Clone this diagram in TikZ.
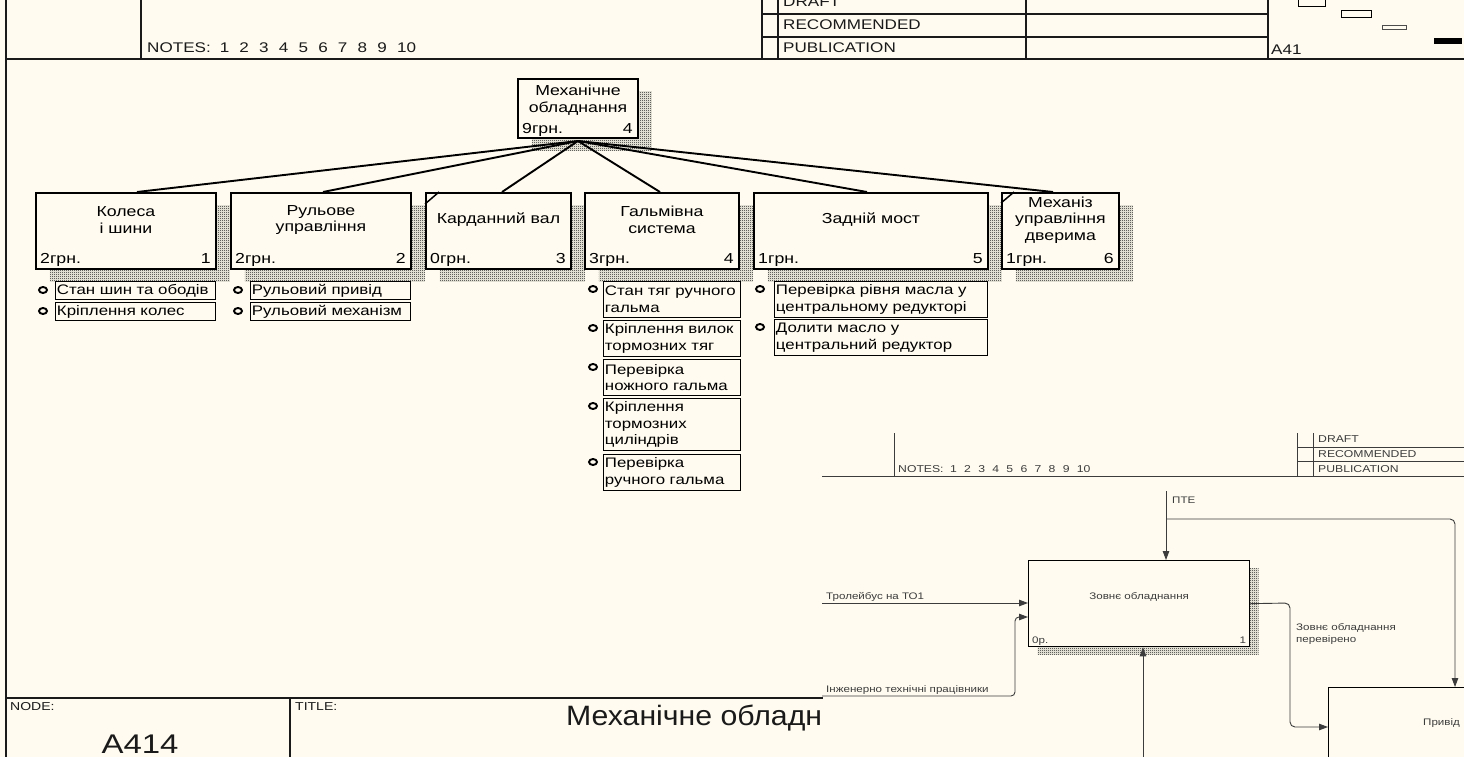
\documentclass[tikz,border=0pt]{standalone}
\usepackage{fontspec}
\setmainfont{Liberation Sans}
\newfontfamily\wf[FakeStretch=1.22]{Liberation Sans}
\newfontfamily\tf[FakeStretch=1.08]{Liberation Sans}
\usetikzlibrary{calc,patterns,shapes.geometric,arrows.meta,shadows}
\definecolor{bg}{HTML}{FFFBF0}
\definecolor{ink}{HTML}{1A1A1A}
\definecolor{thin}{HTML}{3C3C3C}
\pgfdeclarepatternformonly{fhatch}{\pgfqpoint{0pt}{0pt}}{\pgfqpoint{2pt}{2pt}}{\pgfqpoint{2pt}{2pt}}{%
  \pgfpathrectangle{\pgfqpoint{0pt}{0pt}}{\pgfqpoint{1pt}{1pt}}%
  \pgfpathrectangle{\pgfqpoint{1pt}{1pt}}{\pgfqpoint{1pt}{1pt}}%
  \pgfusepath{fill}}
\tikzset{
  frame/.style={draw=ink, line width=1.1},
  iframe/.style={draw=thin, line width=0.9},
  hdr/.style={font=\wf\fontsize{14}{16}\selectfont, inner sep=0, anchor=west, text=ink},
  ihdr/.style={font=\wf\fontsize{10}{12}\selectfont, inner sep=0, anchor=west, text=thin},
  proc/.style={draw=black, line width=1.9, fill=bg, inner sep=0, anchor=north west,
     general shadow={shadow xshift=14pt, shadow yshift=-13pt, pattern=fhatch, pattern color=black!95}},
  iproc/.style={draw=black, line width=1.3, fill=bg, inner sep=0, anchor=north west,
     general shadow={shadow xshift=9pt, shadow yshift=-8pt, pattern=fhatch, pattern color=black!95}},
  btxt/.style={font=\wf\fontsize{14.5}{16.5}\selectfont, align=center, inner sep=0},
  cost/.style={font=\wf\fontsize{14.5}{16.5}\selectfont, inner sep=0, anchor=base west},
  num/.style={font=\wf\fontsize{14.5}{16.5}\selectfont, inner sep=0, anchor=base east},
  litem/.style={draw=black, line width=0.9, fill=bg, anchor=north west, inner xsep=1.5, inner ysep=0,
     align=left, font=\wf\fontsize{13.8}{16.5}\selectfont, text width=#1},
  ring/.style={ellipse, draw=black, line width=1.9, minimum width=8, minimum height=6, inner sep=0},
  conn/.style={draw=black, line width=1.9},
  arr/.style={draw=thin, line width=0.9, -{Triangle[length=9pt,width=6.5pt]}},
  itxt/.style={font=\wf\fontsize{9.5}{11.5}\selectfont, inner sep=0, text=thin},
  ttxt/.style={font=\wf\fontsize{11.5}{13}\selectfont, inner sep=0, anchor=west, text=ink},
}
\begin{document}
\begin{tikzpicture}[x=1pt,y=-1pt]
\useasboundingbox (0,0) rectangle (1464,757);
\clip (0,0) rectangle (1464,757);
\fill[bg] (0,0) rectangle (1464,757);

% ---------- header ----------
\draw[draw=ink, line width=2.5] (6,0) -- (6,757);
\draw[draw=ink, line width=1.6] (6,59) -- (1464,59);
\draw[frame] (141,0) -- (141,59);
\foreach \x in {762,778,1026,1268} \draw[frame] (\x,0) -- (\x,59);
\draw[frame] (762,14) -- (1268,14) (762,37) -- (1268,37);
\node[hdr] (notes) at (147,48) {NOTES:\hspace{9pt}1\hspace{10.2pt}2\hspace{10.2pt}3\hspace{10.2pt}4\hspace{10.2pt}5\hspace{10.2pt}6\hspace{10.2pt}7\hspace{10.2pt}8\hspace{10.2pt}9\hspace{10.2pt}10};
\node[hdr] (draft) at (783,2) {DRAFT};
\node[hdr] (recom) at (783,25) {RECOMMENDED};
\node[hdr] (publ) at (783,48) {PUBLICATION};
\node[hdr] (a41) at (1271,50) {A41};
\draw[line width=1] (1298,-2) rectangle (1325,7);
\draw[line width=1] (1341,11) rectangle (1371,18);
\draw[line width=0.8, draw=black!70] (1382,25) rectangle (1406,29);
\fill (1434,38) rectangle (1462,44);

% ---------- top node ----------
\node[proc, minimum width=120, minimum height=59] (top) at (517,78) {};
\node[btxt] (topt) at ($(top.north)+(0,22)$) {Механічне\\обладнання};
\node[cost] (topc) at ($(top.south west)+(5,-5)$) {9грн.};
\node[num] (topn) at ($(top.south east)+(-6,-5)$) {4};

% ---------- child boxes ----------
\node[proc, minimum width=180, minimum height=76] (b1) at (35,192) {};
\node[proc, minimum width=180, minimum height=76] (b2) at (230,192) {};
\node[proc, minimum width=145, minimum height=76] (b3) at (425,192) {};
\node[proc, minimum width=154, minimum height=76] (b4) at (584,192) {};
\node[proc, minimum width=234, minimum height=76] (b5) at (753,192) {};
\node[proc, minimum width=117, minimum height=76] (b6) at (1001,192) {};

\coordinate (apex) at (578,141);
\draw[conn] (apex) -- ($(b1.north west)+(102,0)$);
\draw[conn] (apex) -- ($(b2.north west)+(93,0)$);
\draw[conn] (apex) -- ($(b3.north west)+(77,0)$);
\draw[conn] (apex) -- ($(b4.north west)+(76,0)$);
\draw[conn] (apex) -- ($(b5.north west)+(114,0)$);
\draw[conn] (apex) -- ($(b6.north west)+(52,0)$);

\draw[line width=1.5] ($(b3.north west)+(0,12)$) -- ($(b3.north west)+(14,0)$);
\draw[line width=1.5] ($(b6.north west)+(0,11)$) -- ($(b6.north west)+(13,0)$);

\node[btxt] (t1) at ($(b1.north)+(0,28)$) {Колеса\\і шини};
\node[btxt] (t2) at ($(b2.north)+(0,28)$) {Рульове\\управління};
\node[btxt] (t3) at ($(b3.north)+(0,28)$) {Карданний вал};
\node[btxt] (t4) at ($(b4.north)+(0,28)$) {Гальмівна\\система};
\node[btxt] (t5) at ($(b5.north)+(0,28)$) {Задній мост};
\node[btxt] (t6) at ($(b6.north)+(0,28)$) {Механіз\\управління\\дверима};

\node[cost] (c1) at ($(b1.south west)+(5,-6)$) {2грн.};
\node[num]  (n1) at ($(b1.south east)+(-6,-6)$) {1};
\node[cost] (c2) at ($(b2.south west)+(5,-6)$) {2грн.};
\node[num]  (n2) at ($(b2.south east)+(-6,-6)$) {2};
\node[cost] (c3) at ($(b3.south west)+(5,-6)$) {0грн.};
\node[num]  (n3) at ($(b3.south east)+(-6,-6)$) {3};
\node[cost] (c4) at ($(b4.south west)+(5,-6)$) {3грн.};
\node[num]  (n4) at ($(b4.south east)+(-6,-6)$) {4};
\node[cost] (c5) at ($(b5.south west)+(5,-6)$) {1грн.};
\node[num]  (n5) at ($(b5.south east)+(-6,-6)$) {5};
\node[cost] (c6) at ($(b6.south west)+(5,-6)$) {1грн.};
\node[num]  (n6) at ($(b6.south east)+(-6,-6)$) {6};

% ---------- lists ----------
\node[ring] (o11) at (43,290) {};
\node[litem=157, minimum height=18] (r11) at (55,281) {Стан шин та ободів};
\node[ring] (o12) at (43,311) {};
\node[litem=157, minimum height=18] (r12) at (55,302) {Кріплення колес};

\node[ring] (o21) at (238,290) {};
\node[litem=157, minimum height=18] (r21) at (250,281) {Рульовий привід};
\node[ring] (o22) at (238,311) {};
\node[litem=157, minimum height=18] (r22) at (250,302) {Рульовий механізм};

\node[ring] (o41) at (593,289) {};
\node[litem=134, minimum height=36] (r41) at (603,281) {Стан тяг ручного\\гальма};
\node[ring] (o42) at (593,328) {};
\node[litem=134, minimum height=36] (r42) at (603,320) {Кріплення вилок\\тормозних тяг};
\node[ring] (o43) at (593,367) {};
\node[litem=134, minimum height=36] (r43) at (603,359) {Перевірка\\ножного гальма};
\node[ring] (o44) at (593,406) {};
\node[litem=134, minimum height=52] (r44) at (603,398) {Кріплення\\тормозних\\циліндрів};
\node[ring] (o45) at (593,462) {};
\node[litem=134, minimum height=36] (r45) at (603,454) {Перевірка\\ручного гальма};

\node[ring] (o51) at (760,289) {};
\node[litem=210, minimum height=36] (r51) at (774,281) {Перевірка рівня масла у\\центральному редукторі};
\node[ring] (o52) at (760,327) {};
\node[litem=210, minimum height=36] (r52) at (774,319) {Долити масло у\\центральний редуктор};

% ---------- inset diagram ----------
\draw[iframe] (894,433) -- (894,476);
\draw[iframe] (822,476) -- (1464,476);
\draw[iframe] (1297,433) -- (1297,476) (1313,433) -- (1313,476);
\draw[iframe] (1297,447) -- (1464,447) (1297,461) -- (1464,461);
\node[ihdr] (inotes) at (898,469) {NOTES:\hspace{6.5pt}1\hspace{7.3pt}2\hspace{7.3pt}3\hspace{7.3pt}4\hspace{7.3pt}5\hspace{7.3pt}6\hspace{7.3pt}7\hspace{7.3pt}8\hspace{7.3pt}9\hspace{7.3pt}10};
\node[ihdr] (idraft) at (1318,439) {DRAFT};
\node[ihdr] (irecom) at (1318,454) {RECOMMENDED};
\node[ihdr] (ipubl) at (1318,469) {PUBLICATION};

\node[iproc, minimum width=221, minimum height=86] (a1) at (1028,560) {};
\node[iproc, minimum width=150, minimum height=80] (a2) at (1328,687) {};

\coordinate (in1) at (822,603);
\coordinate (in2) at (822,696);
\coordinate (ctl) at (1166,491);
\coordinate (br) at (1166,519);
\coordinate (mech) at (1143,760);
\coordinate (a1w2) at (1028,617);
\coordinate (a2n) at (1455,687);
\coordinate (a2w) at (1328,727);
\draw[arr] (in1) -- (in1 -| a1.west);
\draw[arr, rounded corners=4] (in2) -- (1015,696) -- (1015,617) -- (a1w2);
\draw[arr] (ctl) -- (ctl |- a1.north);
\draw[arr, rounded corners=5] (br) -- (1455,519) -- (a2n);
\draw[arr] (mech) -- (mech |- a1.south);
\draw[arr, rounded corners=5] (a1.east) -- (1290,603) -- (1290,727) -- (a2w);

\node[itxt, anchor=west] (lpte) at (1172,500) {ПТЕ};
\node[itxt, anchor=west] (ltro) at (826,597) {Тролейбус на ТО1};
\node[itxt, anchor=west] (ling) at (826,690) {Інженерно технічні працівники};
\node[itxt, anchor=west, align=left] (lout) at (1296,634) {Зовнє обладнання\\перевірено};
\node[itxt] (a1t) at ($(a1.north)+(0,37)$) {Зовнє обладнання};
\node[itxt, anchor=base west] (a1c) at ($(a1.south west)+(4,-4)$) {0р.};
\node[itxt, anchor=base east] (a1n) at ($(a1.south east)+(-4,-4)$) {1};
\node[itxt, anchor=west] (a2t) at (1423,723) {Привід};

% ---------- bottom title block ----------
\draw[frame] (6,698) -- (823,698);
\draw[frame] (290,698) -- (290,757);
\node[ttxt] (node) at (10,707) {NODE:};
\node[ttxt] (title) at (295,707) {TITLE:};
\node[font=\wf\fontsize{27}{29}\selectfont, inner sep=0, text=ink, anchor=base] (nodeno) at (140,753) {A414};
\node[font=\tf\fontsize{28}{30}\selectfont, inner sep=0, anchor=west, text=ink] (ttl) at (566,718) {Механічне обладн};
\end{tikzpicture}
\end{document}
